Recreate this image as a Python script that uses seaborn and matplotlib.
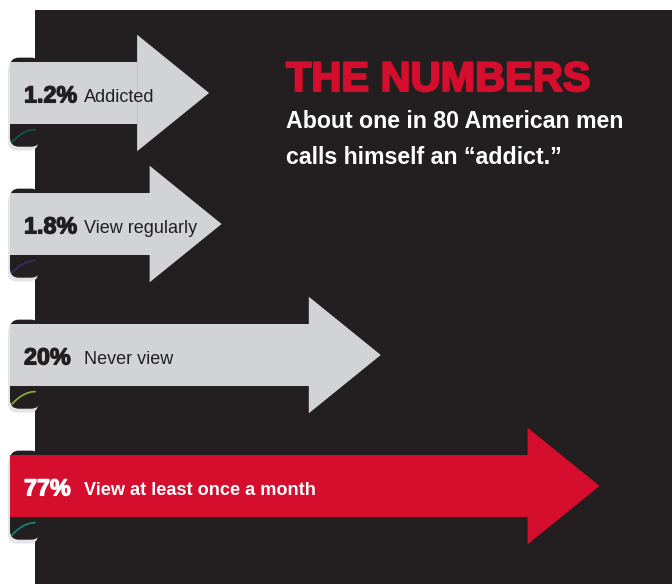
import matplotlib
matplotlib.use('Agg')

import matplotlib.pyplot as plt
import matplotlib.patheffects as pe
import numpy as np
import pandas as pd
import seaborn as sns
from matplotlib.patches import FancyBboxPatch, Polygon, Rectangle

# data
percents = [1.2, 1.8, 20, 77]
pct_labels = ['1.2%', '1.8%', '20%', '77%']
categories = ['Addicted', 'View regularly', 'Never view', 'View at least once a month']
title = 'THE NUMBERS'
subtitle = ['About one in 80 American men', 'calls himself an \u201caddict.\u201d']

DARK = '#231f20'
GREY = '#d1d3d4'
RED = '#d40e2c'
arrow_colors = [GREY, GREY, GREY, RED]
curl_colors = ['#0d5c4b', '#3b2d6b', '#8cb43c', '#17877a']
label_colors = [DARK, DARK, DARK, 'white']
label_weights = ['normal', 'normal', 'normal', 'bold']

W, H = 672, 584
LEFT = 10                 # px where every arrow starts
ROW0, ROW_STEP = 93, 131  # px of first row centre, px between rows
# arrow length grows with the square root of the share (x units are px)
ARROW_BASE, ARROW_SCALE = 143.4, 50.85
HEAD_LEN = 72
HEAD_HALF = 0.445
SHAFT = 0.48

df = pd.DataFrame({'category': categories, 'pct': percents})
df['tip'] = ARROW_BASE + ARROW_SCALE * np.sqrt(df['pct'])
df['shaft'] = df['tip'] - HEAD_LEN

sns.set_theme(style='white')
fig = plt.figure(figsize=(W / 100, H / 100), dpi=100)
fig.patch.set_facecolor('white')
fig.patches.append(Rectangle((35 / W, 0), 1, (H - 10) / H, transform=fig.transFigure,
                             facecolor=DARK, edgecolor='none', zorder=-5))

ax = fig.add_axes([0, 0, 1, 1])
ax.set_facecolor('none')

sns.barplot(data=df, x='shaft', y='category', hue='category', palette=arrow_colors,
            width=SHAFT, orient='h', saturation=1, legend=False, ax=ax, zorder=3,
            linewidth=0, edgecolor='none')

aspect = 1 / ROW_STEP
for i, row in df.iterrows():
    # ribbon fold at the left end
    ax.add_patch(FancyBboxPatch((-2, i - 0.24), 30, 0.68,
                                boxstyle='round,pad=0,rounding_size=9',
                                mutation_aspect=aspect, facecolor='#e4e5e6',
                                edgecolor='none', zorder=1))
    ax.add_patch(FancyBboxPatch((0, i - 0.27), 30, 0.68,
                                boxstyle='round,pad=0,rounding_size=9',
                                mutation_aspect=aspect, facecolor=DARK,
                                edgecolor='none', zorder=2))
    t = np.linspace(0, 1, 30)
    ax.plot(2 + 23 * t, i + 0.375 - 0.095 * (1 - (1 - t) ** 2),
            color=curl_colors[i], lw=1.2, zorder=2.5, solid_capstyle='round')
    # arrow head
    ax.add_patch(Polygon([(row['shaft'], i - HEAD_HALF), (row['tip'], i),
                          (row['shaft'], i + HEAD_HALF)], closed=True,
                         facecolor=arrow_colors[i], edgecolor='none', zorder=3))
    ax.text(14, i + 0.072, pct_labels[i], color=label_colors[i], fontsize=16.8,
            family=['Liberation Sans', 'DejaVu Sans'], fontweight='bold',
            va='baseline', ha='left', zorder=5,
            path_effects=[pe.withStroke(linewidth=0.9, foreground=label_colors[i])])
    ax.text(74, i + 0.065, row['category'], color=label_colors[i],
            fontsize=13.1 if label_weights[i] == 'bold' else 13,
            family=['Liberation Sans', 'DejaVu Sans'], fontweight=label_weights[i],
            va='baseline', ha='left', zorder=5)

ax.set_xlim(-LEFT, W - LEFT)
ax.set_ylim((H - ROW0) / ROW_STEP, -ROW0 / ROW_STEP)
ax.axis('off')

fig.text(286 / W, 1 - 91 / H, title, color=RED, fontsize=29.9,
         family=['Liberation Sans', 'DejaVu Sans'], fontweight='bold', va='baseline',
         path_effects=[pe.withStroke(linewidth=1.5, foreground=RED)])
for k, line in enumerate(subtitle):
    fig.text(286 / W, 1 - (128 + 36.5 * k) / H, line, color='white', fontsize=16.7,
             family=['Liberation Sans', 'DejaVu Sans'], fontweight='bold', va='baseline')

fig.savefig('out.png', dpi=100, facecolor='white')
